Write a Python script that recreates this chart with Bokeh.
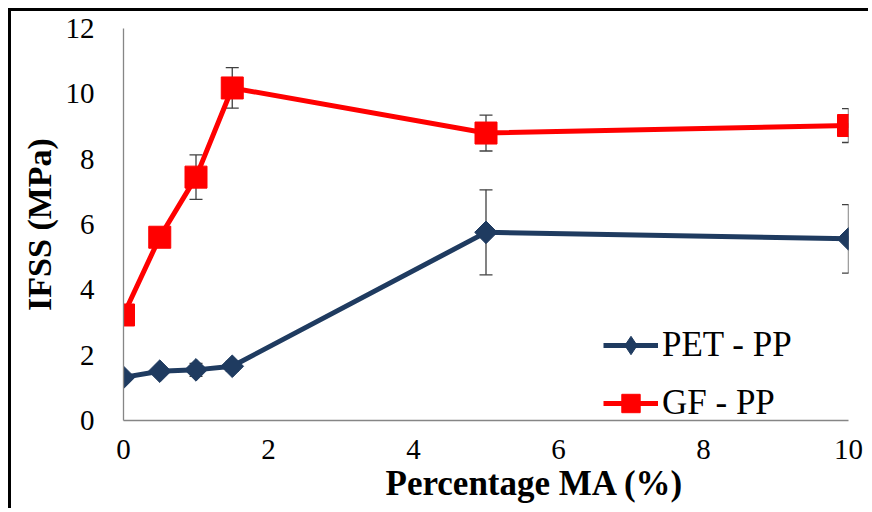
from bokeh.plotting import figure
from bokeh.models import (Range1d, FixedTicker, Whisker, TeeHead, ColumnDataSource,
                          Legend, LegendItem, Title)
from bokeh.embed import file_html
from bokeh.resources import INLINE
import numpy as np

# ---- data ----
ma_pct = [0, 0.5, 1, 1.5, 5, 10]
pet_pp = [1.32, 1.51, 1.55, 1.66, 5.76, 5.56]
pet_err = [0.08, 0.08, 0.20, 0.15, 1.30, 1.05]
gf_pp = [3.23, 5.61, 7.45, 10.18, 8.80, 9.03]
gf_err = [0.15, 0.25, 0.68, 0.62, 0.55, 0.52]
x_ticks = [0, 2, 4, 6, 8, 10]
y_ticks = [0, 2, 4, 6, 8, 10, 12]
series_names = ["PET - PP", "GF - PP"]
x_title = "Percentage MA (%)"
y_title = "IFSS (MPa)"

PET_COLOR = "#1F3B60"
GF_COLOR = "#FF0000"
AXIS_GREY = "#868686"
ERR_COLOR = "#404040"
FONT = "Liberation Serif"

p = figure(width=860, height=500,
           x_range=Range1d(0, 10), y_range=Range1d(0, 12),
           output_backend="svg", toolbar_location=None,
           min_border_left=112, min_border_right=23,
           min_border_top=17, min_border_bottom=91)
p.styles = {"margin-top": "8px", "margin-left": "8px",
            "border-top": "3px solid #000", "border-left": "3px solid #000"}
p.outline_line_color = None
p.xgrid.visible = False
p.ygrid.visible = False
p.background_fill_color = "white"
p.border_fill_color = "white"

for ax in (p.xaxis[0], p.yaxis[0]):
    ax.axis_line_color = AXIS_GREY
    ax.axis_line_width = 1.3
    ax.major_tick_line_color = None
    ax.minor_tick_line_color = None
    ax.major_tick_in = 0
    ax.major_tick_out = 0
    ax.minor_tick_in = 0
    ax.minor_tick_out = 0
    ax.major_label_text_font = FONT
    ax.major_label_text_font_size = "29px"
    ax.major_label_text_color = "black"

p.xaxis.ticker = FixedTicker(ticks=x_ticks)
p.yaxis.ticker = FixedTicker(ticks=y_ticks)
p.xaxis.major_label_standoff = 19
p.yaxis.major_label_standoff = 29

p.yaxis.axis_label = y_title
p.yaxis.axis_label_text_font = FONT
p.yaxis.axis_label_text_font_style = "bold"
p.yaxis.axis_label_text_font_size = "34px"
p.yaxis.axis_label_text_color = "black"
p.yaxis.axis_label_standoff = 5

# x-axis title (shifted right of the frame centre as in the reference)
xt = Title(text=x_title, align="left", offset=262,
           text_font=FONT, text_font_size="35px",
           text_font_style="bold", text_color="black")
if "standoff" in Title.properties():
    xt.standoff = 0
p.add_layout(xt, "below")

# error bars
def add_err(y, e, color):
    src = ColumnDataSource(dict(x=ma_pct,
                                lo=[a - b for a, b in zip(y, e)],
                                hi=[a + b for a, b in zip(y, e)]))
    w = Whisker(base="x", lower="lo", upper="hi", source=src,
                line_color=color, line_width=1.3,
                upper_head=TeeHead(size=13, line_color=color, line_width=1.3),
                lower_head=TeeHead(size=13, line_color=color, line_width=1.3),
                level="underlay")
    p.add_layout(w)

add_err(pet_pp, pet_err, ERR_COLOR)
add_err(gf_pp, gf_err, ERR_COLOR)

l1 = p.line(ma_pct, pet_pp, line_color=PET_COLOR, line_width=5)
# diamond used for the legend glyph (hidden under the rotated squares)
s1_leg = p.scatter(ma_pct, pet_pp, marker="diamond", size=20,
                   fill_color=PET_COLOR, line_color=PET_COLOR)
s1 = p.scatter(ma_pct, pet_pp, marker="square", angle=np.pi / 4, size=16,
               fill_color=PET_COLOR, line_color=PET_COLOR)
l2 = p.line(ma_pct, gf_pp, line_color=GF_COLOR, line_width=5)
s2 = p.scatter(ma_pct, gf_pp, marker="square", size=22,
               fill_color=GF_COLOR, line_color=GF_COLOR)

legend = Legend(items=[LegendItem(label=series_names[0], renderers=[l1, s1_leg]),
                       LegendItem(label=series_names[1], renderers=[l2, s2])],
                location=(480, -6), orientation="vertical",
                label_text_font=FONT, label_text_font_size="35px",
                label_text_color="black",
                glyph_width=55, glyph_height=46, label_height=46,
                spacing=12, padding=0, margin=0, label_standoff=4,
                border_line_color=None, background_fill_alpha=0)
p.add_layout(legend)

open("out.html", "w").write(file_html(p, INLINE))
